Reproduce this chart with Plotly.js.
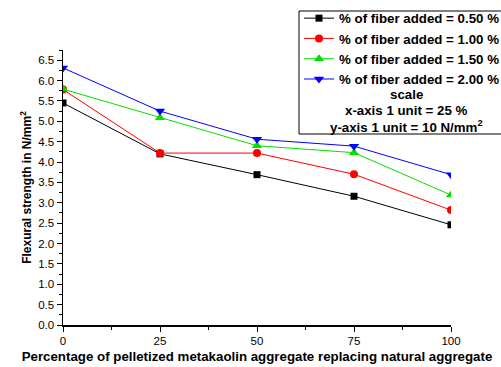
<!DOCTYPE html>
<html><head><meta charset="utf-8">
<script src="https://cdn.plot.ly/plotly-3.0.1.min.js"></script>
<style>html,body{margin:0;padding:0;background:#fff}#chart{width:501px;height:367px}</style>
</head><body><div id="chart"></div>
<script>
const xValues = [0, 25, 50, 75, 100];
const fiber050 = [5.45, 4.20, 3.69, 3.16, 2.46];
const fiber100 = [5.78, 4.22, 4.22, 3.70, 2.82];
const fiber150 = [5.79, 5.09, 4.40, 4.23, 3.19];
const fiber200 = [6.31, 5.25, 4.56, 4.39, 3.69];
const seriesNames = ['% of fiber added = 0.50 %', '% of fiber added = 1.00 %', '% of fiber added = 1.50 %', '% of fiber added = 2.00 %'];
const scaleLines = ['scale', 'x-axis 1 unit = 25 %', 'y-axis 1 unit = 10 N/mm<sup>2</sup>'];

const colors = ['#000000', '#ff0000', '#00e000', '#0000ff'];
const symbols = ['square', 'circle', 'triangle-up', 'triangle-down'];
const sizes = [7, 8, 9, 9];
const ys = [fiber050, fiber100, fiber150, fiber200];

const traces = ys.map((y, i) => ({
  x: xValues, y: y, name: '<b>' + seriesNames[i] + '</b>', type: 'scatter', mode: 'lines+markers',
  line: {color: colors[i], width: 1},
  marker: {color: colors[i], symbol: symbols[i], size: sizes[i]}
}));

const L = 63, R = 451, T = 50, B = 325;
const px = v => (v - L) / (R - L);
const py = v => (B - v) / (B - T);
const FAM = 'Liberation Sans, Arial, sans-serif';
const boldFont = {family: FAM, size: 13.3, color: '#000', weight: 'bold'};

const annotations = scaleLines.map((t, i) => ({
  text: '<b>' + t + '</b>', xref: 'paper', yref: 'paper', x: px(406), y: py(94 + i * 16),
  xanchor: 'center', yanchor: 'middle', showarrow: false, font: boldFont
}));

const layout = {
  width: 501, height: 367,
  margin: {l: L, r: 501 - R, t: T, b: 367 - B, autoexpand: false},
  paper_bgcolor: '#fff', plot_bgcolor: '#fff',
  showlegend: true,
  legend: {x: px(299), y: py(3), xanchor: 'left', yanchor: 'top', bgcolor: 'rgba(0,0,0,0)',
    borderwidth: 0, font: boldFont, tracegroupgap: 0},
  xaxis: {range: [0, 100], tickvals: xValues, ticktext: xValues.map(String),
    showline: true, linecolor: '#000', linewidth: 1.5, ticks: 'outside', ticklen: 5, tickcolor: '#000',
    minor: {tickvals: [12.5, 37.5, 62.5, 87.5], ticks: 'outside', ticklen: 3, tickcolor: '#000'},
    showgrid: false, zeroline: false,
    tickfont: {family: FAM, size: 11.5, color: '#000'},
    title: {text: '<b>Percentage of pelletized metakaolin aggregate replacing natural aggregate</b>',
      font: {family: FAM, size: 13.3, color: '#000'}, standoff: 5}},
  yaxis: {range: [0, 6.75], dtick: 0.5, tick0: 0, tickformat: '.1f',
    showline: true, linecolor: '#000', linewidth: 1.5, ticks: 'outside', ticklen: 5, tickcolor: '#000',
    minor: {dtick: 0.25, ticks: 'outside', ticklen: 3, tickcolor: '#000'},
    showgrid: false, zeroline: false,
    tickfont: {family: FAM, size: 11.5, color: '#000'},
    title: {text: '<b>Flexural strength in N/mm<sup>2</sup></b>',
      font: {family: FAM, size: 12, color: '#000'}, standoff: 4}},
  shapes: [{type: 'rect', xref: 'paper', yref: 'paper', x0: px(299), x1: px(505), y0: py(134), y1: py(11),
    line: {color: '#000', width: 1}, fillcolor: 'rgba(0,0,0,0)'}],
  annotations: annotations
};

Plotly.newPlot('chart', traces, layout, {displayModeBar: false, staticPlot: true});
</script></body></html>
